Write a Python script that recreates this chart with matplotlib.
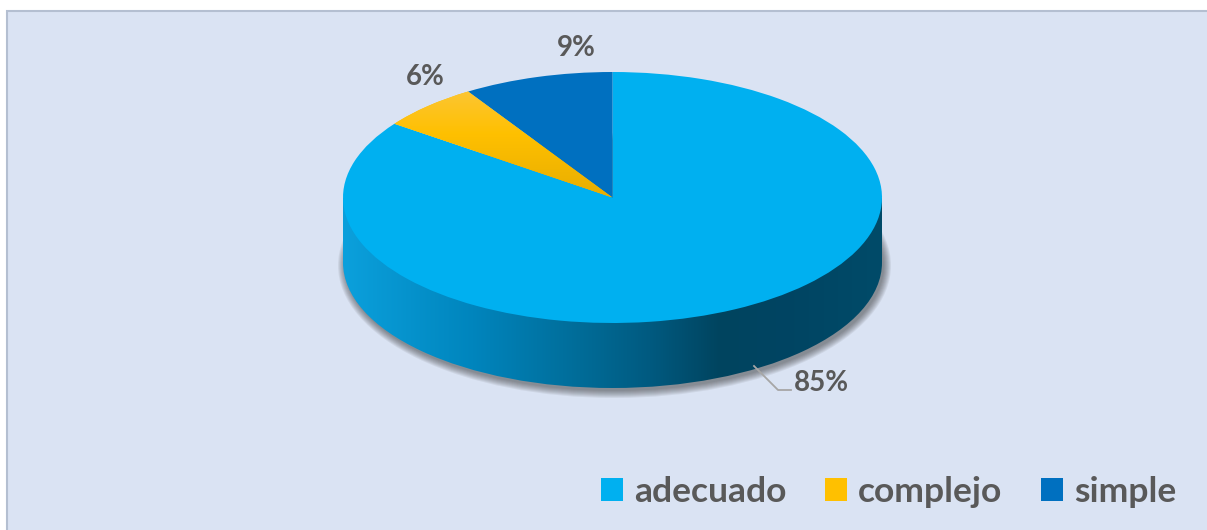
import numpy as np
import matplotlib.pyplot as plt
from matplotlib.patches import Rectangle, Ellipse, Patch
from matplotlib.lines import Line2D
from matplotlib.colors import LinearSegmentedColormap

categorias = ['adecuado', 'complejo', 'simple']
porcentajes = [85, 6, 9]
colores = ['#00B0F0', '#FFC000', '#0070C0']

W, H = 1207, 530
gris_texto = '#595959'
fuente = 'Lato'

fig = plt.figure(figsize=(W / 100, H / 100), dpi=100, facecolor='white')

# fondo azul claro con borde
fig.add_artist(Rectangle((7 / W, -0.02), 1.0, 1.02 - 11 / H,
                         transform=fig.transFigure, facecolor='#DAE3F3',
                         edgecolor='#B4BFD1', linewidth=1.5, zorder=-5))

# geometria del pastel 3D (pixeles)
cx, cy, rx, ry = 612.5, 197.5, 269.5, 125.5
prof = 65 / ry

ax = fig.add_axes([0, 0, 1, 1])
wedges, _ = ax.pie(porcentajes, colors=colores, startangle=90,
                   counterclock=False, radius=1,
                   wedgeprops=dict(linewidth=0, zorder=3))

# sombra bajo el pastel
for i in range(8):
    ax.add_patch(Ellipse((2 / rx, -prof - 3 / ry), 2 + 2 * i / rx, 2 + 2 * i / ry,
                         facecolor='#333333', alpha=0.08, linewidth=0, zorder=1))

# lateral con degradado
cmap_lado = LinearSegmentedColormap.from_list('lado', [
    (0.0, '#0BA0DC'), (0.24, '#0085BD'), (0.44, '#006C98'),
    (0.57, '#005A80'), (0.70, '#00445F'), (0.84, '#004563'), (1.0, '#004B69')])
grad_h = np.linspace(0, 1, 256).reshape(1, -1)
for clip in [Ellipse((0, -prof), 2, 2, transform=ax.transData),
             Rectangle((-1, -prof), 2, prof, transform=ax.transData)]:
    im = ax.imshow(grad_h, cmap=cmap_lado, extent=(-1, 1, -prof - 1, 0),
                   aspect='auto', zorder=2, interpolation='bicubic')
    im.set_clip_path(clip)

# degradado del sector amarillo
cmap_am = LinearSegmentedColormap.from_list('am', ['#FBC84A', '#FFC000', '#E8AE00'])
grad_v = np.linspace(0, 1, 256).reshape(-1, 1)
im = ax.imshow(grad_v, cmap=cmap_am, extent=(-1, 0, 0, 1), aspect='auto',
               zorder=4, interpolation='bicubic')
im.set_clip_path(wedges[1])

ax.set_xlim((0 - cx) / rx, (W - cx) / rx)
ax.set_ylim((cy - H) / ry, cy / ry)
ax.set_aspect('auto')
ax.set_axis_off()

# etiquetas de porcentaje
pos_etiquetas = [(821, 383), (425, 77), (576, 48)]
for v, (x, y) in zip(porcentajes, pos_etiquetas):
    fig.text(x / W, 1 - y / H, f'{v}%', ha='center', va='center',
             fontsize=20, fontweight='bold', color=gris_texto, family=fuente)

fig.add_artist(Line2D([754 / W, 778 / W, 791 / W],
                      [1 - 366 / H, 1 - 390 / H, 1 - 390 / H],
                      transform=fig.transFigure, color='#A6A6A6', linewidth=1.3))

# leyenda
handles = [Patch(facecolor=c, label=n) for n, c in zip(categorias, colores)]
leg = ax.legend(handles=handles, loc='center right',
                bbox_to_anchor=(1176 / W, 1 - 492 / H), bbox_transform=fig.transFigure,
                ncol=3, frameon=False, handlelength=0.62, handleheight=0.62,
                handletextpad=0.3, columnspacing=1.1, borderpad=0, borderaxespad=0,
                prop=dict(family=fuente, weight='bold', size=25.5))
for t in leg.get_texts():
    t.set_color(gris_texto)

fig.savefig('out.png', dpi=100)
